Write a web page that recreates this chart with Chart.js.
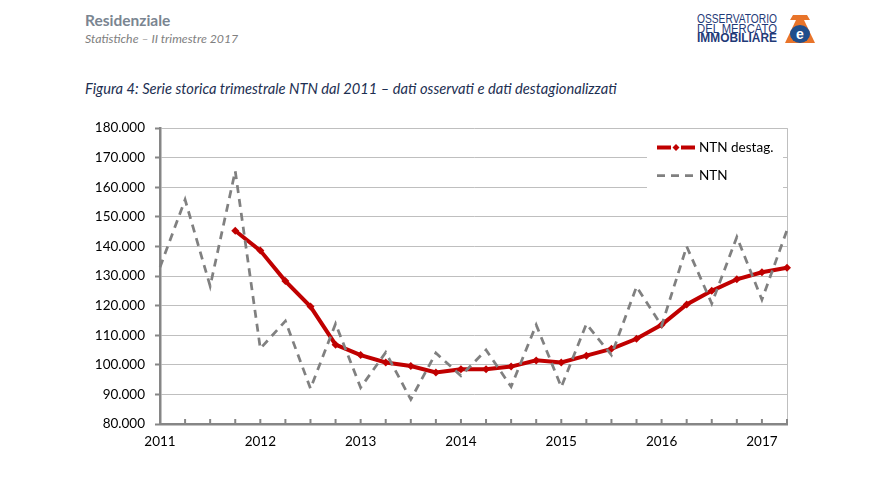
<!DOCTYPE html>
<html>
<head>
<meta charset="utf-8">
<script src="https://cdn.jsdelivr.net/npm/chart.js@4.4.0/dist/chart.umd.min.js"></script>
<style>
  html, body { margin: 0; padding: 0; background: #fff; }
  body { width: 887px; height: 478px; position: relative; overflow: hidden; font-family: "Lato", "Open Sans", sans-serif; }
  #h1 { position: absolute; left: 85px; top: 11px; font-weight: 700; font-size: 15.5px; color: #7a8591; line-height: 19px; white-space: nowrap; }
  #h2 { position: absolute; left: 85px; top: 31px; font-style: italic; font-size: 12.3px; color: #808080; line-height: 15px; white-space: nowrap; }
  #title { position: absolute; left: 85px; top: 79px; font-style: italic; font-size: 14.7px; color: #1d2f52; line-height: 19px; white-space: nowrap; }
  #logo { position: absolute; left: 690px; top: 10px; }
  #wrap { position: absolute; left: 0; top: 110px; width: 887px; height: 368px; }
</style>
</head>
<body>
<div id="h1">Residenziale</div>
<div id="h2">Statistiche – II trimestre 2017</div>
<div id="title">Figura 4: Serie storica trimestrale NTN dal 2011 – dati osservati e dati destagionalizzati</div>
<svg id="logo" width="135" height="40" viewBox="690 10 135 40">
  <g font-family="Liberation Sans Narrow, Liberation Sans, Arial, sans-serif" fill="#1f3a78">
    <text x="697" y="23" font-size="12" textLength="80" lengthAdjust="spacingAndGlyphs">OSSERVATORIO</text>
    <text x="697" y="32.5" font-size="12" textLength="80" lengthAdjust="spacingAndGlyphs">DEL MERCATO</text>
    <text x="697" y="42.3" font-size="12" font-weight="700" textLength="80" lengthAdjust="spacingAndGlyphs">IMMOBILIARE</text>
  </g>
  <polygon points="793,15 807,15 810,20 790,20" fill="#e8742a"/>
  <polygon points="796,20 804,20 815,43 785,43" fill="#e8742a"/>
  <ellipse cx="800" cy="34" rx="10" ry="9" fill="#1f4e8c"/>
  <text x="800" y="38.5" font-family="Liberation Sans, Arial, sans-serif" font-size="14" font-weight="700" fill="#ffffff" text-anchor="middle">e</text>
</svg>
<div id="wrap"><canvas id="c" width="887" height="368"></canvas></div>
<script>
// ---- data ----
const quarters = [
  "2011-I","2011-II","2011-III","2011-IV",
  "2012-I","2012-II","2012-III","2012-IV",
  "2013-I","2013-II","2013-III","2013-IV",
  "2014-I","2014-II","2014-III","2014-IV",
  "2015-I","2015-II","2015-III","2015-IV",
  "2016-I","2016-II","2016-III","2016-IV",
  "2017-I","2017-II"
];
const ntnObserved = [
  133000, 155800, 126600, 165500,
  105500, 114800, 92000, 113900,
  92300, 104200, 88300, 104000,
  96300, 105000, 92600, 113500,
  92500, 113800, 103300, 126400,
  113200, 140000, 120700, 143200,
  122000, 145500
];
const ntnDestag = [
  null, null, null, 145300,
  138600, 128300, 119700, 106800,
  103300, 100800, 99600, 97400,
  98500, 98500, 99400, 101500,
  100800, 103100, 105400, 108800,
  113500, 120400, 125000, 128900,
  131300, 132800
];
const seriesLabels = ["NTN destag.", "NTN"];
const yMin = 80000, yMax = 180000, yStep = 10000;

// ---- helpers ----
function fmt(v) { return String(v).replace(/\B(?=(\d{3})+(?!\d))/g, "."); }
const AXIS = "#868686", GRID = "#bfbfbf", RED = "#c00000", GRAY = "#808080";
const FONT = { family: "Lato", size: 13.5 };

const framePlugin = {
  id: "frame",
  beforeDatasetsDraw(chart) {
    const { ctx, chartArea: a } = chart;
    const xs = chart.scales.x;
    ctx.save();
    ctx.strokeStyle = GRID; ctx.lineWidth = 1;
    ctx.beginPath(); ctx.moveTo(Math.round(a.right) + 0.5, a.top); ctx.lineTo(Math.round(a.right) + 0.5, a.bottom); ctx.stroke();
    ctx.strokeStyle = AXIS; ctx.lineWidth = 2;
    for (let i = 1; i < quarters.length; i++) {
      const x = xs.getPixelForValue(i);
      ctx.beginPath(); ctx.moveTo(x, a.bottom); ctx.lineTo(x, a.bottom - 5); ctx.stroke();
    }
    ctx.restore();
  }
};

const legendPlugin = {
  id: "customLegend",
  afterDatasetsDraw(chart) {
    const { ctx, chartArea: a } = chart;
    const ds = chart.data.datasets;
    ctx.save();
    ctx.fillStyle = "#ffffff";
    ctx.fillRect(a.right - 140, a.top + 4, 136, 63);
    const x0 = a.right - 130, x1 = a.right - 92, tx = a.right - 88;
    const rows = [a.top + 19.5, a.top + 47.5];
    ds.forEach((d, k) => {
      const y = rows[k];
      ctx.strokeStyle = d.borderColor; ctx.lineWidth = d.borderWidth;
      ctx.setLineDash(d.borderDash || []);
      ctx.beginPath(); ctx.moveTo(x0, y); ctx.lineTo(x1, y); ctx.stroke();
      ctx.setLineDash([]);
      if (d.pointRadius > 0) {
        const r = 3.5, cx = (x0 + x1) / 2;
        ctx.fillStyle = "#ffffff";
        ctx.fillRect(cx - 5, y - 3, 10, 6);
        ctx.fillStyle = d.pointBackgroundColor;
        ctx.beginPath();
        ctx.moveTo(cx, y - r); ctx.lineTo(cx + r, y); ctx.lineTo(cx, y + r); ctx.lineTo(cx - r, y); ctx.closePath();
        ctx.fill();
      }
      ctx.fillStyle = "#000000";
      ctx.font = FONT.size + "px " + FONT.family;
      ctx.textBaseline = "middle"; ctx.textAlign = "left";
      ctx.fillText(d.label, tx, y);
    });
    ctx.restore();
  }
};

new Chart(document.getElementById("c"), {
  type: "line",
  data: {
    labels: quarters,
    datasets: [
      {
        label: seriesLabels[0],
        data: ntnDestag,
        borderColor: RED,
        backgroundColor: RED,
        borderWidth: 4,
        pointStyle: "rectRot",
        pointRadius: 4,
        pointBackgroundColor: RED,
        pointBorderColor: RED,
        pointBorderWidth: 0,
        tension: 0,
        order: 1,
        spanGaps: false
      },
      {
        label: seriesLabels[1],
        data: ntnObserved,
        borderColor: GRAY,
        backgroundColor: GRAY,
        borderWidth: 2.75,
        borderDash: [8, 6],
        pointRadius: 0,
        tension: 0,
        order: 0
      }
    ]
  },
  options: {
    responsive: false,
    animation: false,
    devicePixelRatio: 1,
    layout: { padding: { top: 13.5, right: 100, left: 0, bottom: 24 } },
    plugins: { legend: { display: false }, tooltip: { enabled: false } },
    scales: {
      x: {
        type: "category",
        offset: false,
        grid: { display: false, drawTicks: false },
        border: { display: true, color: AXIS, width: 2.5 },
        ticks: {
          autoSkip: false, maxRotation: 0, minRotation: 0, padding: 10,
          color: "#000", font: FONT,
          callback: function (v, i) { const q = quarters[i]; return q.split("-")[1] === "I" ? q.split("-")[0] : ""; }
        },
        afterFit: function (s) { s.height = 30; }
      },
      y: {
        min: yMin, max: yMax,
        grid: {
          color: (c) => (c.tick && c.tick.value === yMin ? "rgba(0,0,0,0)" : GRID),
          lineWidth: 1, tickColor: AXIS, tickLength: 5, tickWidth: 2
        },
        border: { display: true, color: AXIS, width: 2.5 },
        ticks: { stepSize: yStep, padding: 10, color: "#000", font: FONT, callback: (v) => fmt(v) },
        afterFit: function (s) { s.width = 160; }
      }
    }
  },
  plugins: [framePlugin, legendPlugin]
});
</script>
</body>
</html>
